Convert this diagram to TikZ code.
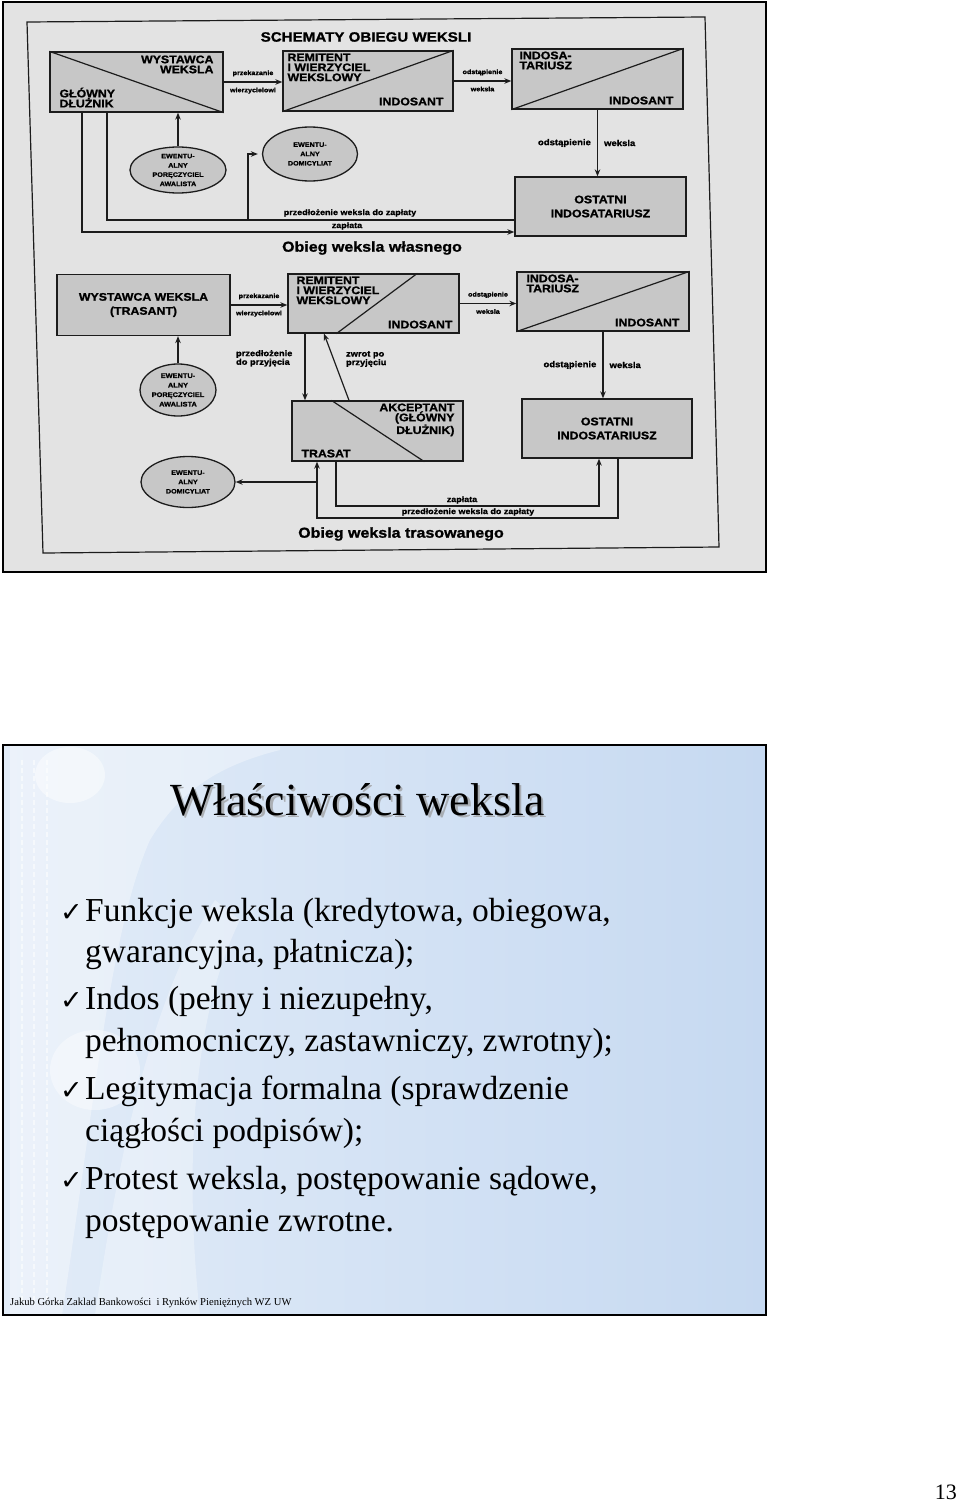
\documentclass[tikz,border=0pt]{standalone}
\usepackage{fontspec}
\setmainfont{Liberation Serif}
\newfontfamily\scanfont[FakeStretch=1.12,FakeBold=1.2]{Liberation Sans Bold}
\newfontfamily\symfont{DejaVu Sans}
\usepackage{xcolor}
\usepackage{tikz}
\usetikzlibrary{positioning,shapes.geometric,arrows.meta}

\definecolor{ink}{HTML}{1C1C1C}
\definecolor{scanbg}{HTML}{E3E3E3}
\definecolor{boxgray}{HTML}{C7C7C7}
\definecolor{slidepale}{HTML}{E2ECF8}
\definecolor{slideblue}{HTML}{C6D9F1}

\begin{document}
\begin{tikzpicture}[x=1pt, y=-1pt,
    party/.style={draw=ink, fill=boxgray, line width=1.3pt, inner sep=0pt,
      minimum width=171pt, minimum height=60pt},
    maybe/.style={ellipse, draw=ink, fill=boxgray, line width=1.3pt, inner sep=0pt,
      align=center, font=\scanfont\fontsize{6.4}{9.3}\selectfont},
    who/.style={inner sep=0pt, font=\scanfont\fontsize{11}{10}\selectfont},
    whoc/.style={align=center, font=\scanfont\fontsize{11}{14}\selectfont},
    tag/.style={inner sep=0pt, font=\scanfont\fontsize{6.4}{7}\selectfont},
    vtag/.style={inner sep=6pt, font=\scanfont\fontsize{8.5}{9}\selectfont},
    ltag/.style={inner sep=0pt, font=\scanfont\fontsize{8}{9}\selectfont},
    ptag/.style={inner sep=0pt, align=left, font=\scanfont\fontsize{8.3}{8.6}\selectfont},
    heading/.style={font=\scanfont\fontsize{13.5}{15}\selectfont},
    caption/.style={font=\scanfont\fontsize{14.3}{16}\selectfont},
    flow/.style={-{Stealth[length=7pt,width=5.5pt]}, line width=1.2pt, draw=ink},
    wire/.style={line width=1.2pt, draw=ink},
    slidetext/.style={anchor=base west, inner sep=0pt, font=\fontsize{33.5}{40}\selectfont},
    tick/.style={anchor=base west, inner sep=0pt, font=\symfont\fontsize{27}{30}\selectfont}
  ]
  \useasboundingbox (0,0) rectangle (960,1501);
  \fill[white] (0,0) rectangle (960,1501);

  % scanned page
  \fill[scanbg] (3,2) rectangle (766,572);
  \draw[black, line width=1.8pt] (3,2) rectangle (766,572);
  \draw[ink, line width=1.2pt] (27,22) -- (705,17) -- (719,547) -- (43,553) -- cycle;
  \node[heading] (schemat) at (366,37) {SCHEMATY OBIEGU WEKSLI};

  % obieg weksla wlasnego
  \node[party, minimum width=173pt] (wyst1) at (136.5,82) {};
  \draw[wire] (wyst1.north west) -- (wyst1.south east);
  \node[who, align=right, anchor=north east] (wyst1a) at ([shift={(-10,4)}]wyst1.north east) {WYSTAWCA\\WEKSLA};
  \node[who, align=left, anchor=south west] (wyst1b) at ([shift={(10,-5)}]wyst1.south west) {GŁÓWNY\\DŁUŻNIK};

  \node[party, minimum width=170pt] (remit1) at (368,81) {};
  \draw[wire] (remit1.south west) -- (remit1.north east);
  \node[who, align=left, anchor=north west] (remit1a) at ([shift={(5,3)}]remit1.north west) {REMITENT\\I WIERZYCIEL\\WEKSLOWY};
  \node[who, anchor=south east] (remit1b) at ([shift={(-10,-6)}]remit1.south east) {INDOSANT};

  \node[party] (indos1) at (597.5,79) {};
  \draw[wire] (indos1.south west) -- (indos1.north east);
  \node[who, align=left, anchor=north west] (indos1a) at ([shift={(8,3)}]indos1.north west) {INDOSA-\\TARIUSZ};
  \node[who, anchor=south east] (indos1b) at ([shift={(-10,-5)}]indos1.south east) {INDOSANT};

  \node[party, minimum height=59pt, whoc] (ost1) at (600.5,206.5) {OSTATNI\\INDOSATARIUSZ};

  \node[maybe, minimum width=96pt, minimum height=46pt] (por1) at (178,170) {EWENTU-\\ALNY\\PORĘCZYCIEL\\AWALISTA};
  \node[maybe, minimum width=95pt, minimum height=54pt] (domi1) at (310,154) {EWENTU-\\ALNY\\DOMICYLIAT};

  \draw[flow] (wyst1.east) -- (wyst1.east -| remit1.west)
    node[tag, midway, above=5pt] (przek1) {przekazanie}
    node[tag, midway, below=5pt] (wierz1) {wierzycielowi};
  \draw[flow] (remit1.east) -- (remit1.east -| indos1.west)
    node[tag, midway, above=5pt] (odst1) {odstąpienie}
    node[tag, midway, below=5pt] (weks1) {weksla};
  \draw[flow] (indos1.south) -- (indos1.south |- ost1.north)
    node[vtag, midway, left] (odst1v) {odstąpienie}
    node[vtag, midway, right] (weks1v) {weksla};
  \draw[flow] (por1.north) -- (por1.north |- wyst1.south);

  \coordinate (pay1) at (82,232);
  \coordinate (pres1) at (107,220);
  \coordinate (br1) at (248,220);
  \draw[flow] (wyst1.south -| pay1) |- (ost1.west |- pay1);
  \draw[wire] (ost1.west |- pres1) -| (wyst1.south -| pres1);
  \draw[flow, shorten >=4pt] (br1) |- (domi1.west);
  \node[ltag] (pres1t) at (350,213) {przedłożenie weksla do zapłaty};
  \node[ltag] (pay1t) at (347,226) {zapłata};
  \node[caption] (cap1) at (372,248) {Obieg weksla własnego};

  % obieg weksla trasowanego
  \node[party, minimum width=173pt, minimum height=61pt, whoc] (trasant) at (143.5,305) {WYSTAWCA WEKSLA\\(TRASANT)};

  \node[party, minimum height=59pt] (remit2) at (373.5,303.5) {};
  \draw[wire] ([xshift=49pt]remit2.south west) -- ([xshift=130pt]remit2.north west);
  \node[who, align=left, anchor=north west] (remit2a) at ([shift={(9,3)}]remit2.north west) {REMITENT\\I WIERZYCIEL\\WEKSLOWY};
  \node[who, anchor=south east] (remit2b) at ([shift={(-7,-5)}]remit2.south east) {INDOSANT};

  \node[party, minimum width=172pt, minimum height=59pt] (indos2) at (603,301.5) {};
  \draw[wire] (indos2.south west) -- (indos2.north east);
  \node[who, align=left, anchor=north west] (indos2a) at ([shift={(10,3)}]indos2.north west) {INDOSA-\\TARIUSZ};
  \node[who, anchor=south east] (indos2b) at ([shift={(-10,-5)}]indos2.south east) {INDOSANT};

  \node[party, minimum width=170pt, minimum height=59pt, whoc] (ost2) at (607,428.5) {OSTATNI\\INDOSATARIUSZ};

  \node[party] (trasat) at (377.5,431) {};
  \draw[wire] ([xshift=40pt]trasat.north west) -- ([xshift=133pt]trasat.south west);
  \node[who, align=right, anchor=north east] (trasata) at ([shift={(-9,3)}]trasat.north east) {AKCEPTANT\\(GŁÓWNY\\DŁUŻNIK)};
  \node[who, anchor=south west] (trasatb) at ([shift={(10,-4)}]trasat.south west) {TRASAT};

  \node[maybe, minimum width=76pt, minimum height=52pt, font=\scanfont\fontsize{6.6}{9.5}\selectfont] (por2) at (178,390) {EWENTU-\\ALNY\\PORĘCZYCIEL\\AWALISTA};
  \node[maybe, minimum width=94pt, minimum height=51pt] (domi2) at (188,482) {EWENTU-\\ALNY\\DOMICYLIAT};

  \draw[flow] (trasant.east) -- (trasant.east -| remit2.west)
    node[tag, midway, above=5pt] (przek2) {przekazanie}
    node[tag, midway, below=5pt] (wierz2) {wierzycielowi};
  \draw[flow] (remit2.east) -- (remit2.east -| indos2.west)
    node[tag, midway, above=5pt] (odst2) {odstąpienie}
    node[tag, midway, below=5pt] (weks2) {weksla};
  \draw[flow] (indos2.south) -- (indos2.south |- ost2.north)
    node[vtag, midway, left] (odst2v) {odstąpienie}
    node[vtag, midway, right] (weks2v) {weksla};
  \draw[flow] (por2.north) -- (por2.north |- trasant.south);

  \coordinate (toacc) at (305,367);
  \coordinate (back1) at (349,401);
  \coordinate (back2) at (324,333);
  \draw[flow] (remit2.south -| toacc) -- (trasat.north -| toacc)
    node[ptag, pos=0.37, left=12pt] (przyj) {przedłożenie\\do przyjęcia};
  \draw[flow] (trasat.north -| back1) -- (remit2.south -| back2)
    node[ptag, pos=0.62, right=12pt] (zwrot) {zwrot po\\przyjęciu};

  \coordinate (pres2) at (317,518);
  \coordinate (pres2r) at (618,518);
  \coordinate (br2) at (317,482);
  \coordinate (pay2) at (336,506);
  \coordinate (pay2r) at (599,506);
  \draw[flow] (ost2.south -| pres2r) -- (pres2r) -- (pres2) -- (trasat.south -| pres2);
  \draw[flow] (br2) -- (domi2.east);
  \draw[flow] (trasat.south -| pay2) -- (pay2) -- (pay2r) -- (ost2.south -| pay2r);
  \node[ltag] (pay2t) at (462,500) {zapłata};
  \node[ltag] (pres2t) at (468,512) {przedłożenie weksla do zapłaty};
  \node[caption] (cap2) at (401,534) {Obieg weksla trasowanego};

  % slide
  \fill[left color=slidepale, right color=slideblue] (3,745) rectangle (766,1315);
  \fill[white, opacity=.35] (10,745) rectangle (62,1315);
  \foreach \x in {22,34,47}
    \draw[white, opacity=.55, line width=2pt, dash pattern=on 5pt off 3pt] (\x,760) -- (\x,1305);
  \fill[white, opacity=.35] (62,1315) .. controls (95,1100) and (110,930) .. (150,840)
    .. controls (180,790) and (220,765) .. (280,750) -- (280,745) -- (62,745) -- cycle;
  \fill[white, opacity=.3] (95,1315) .. controls (120,1150) and (150,1000) .. (215,900)
    -- (240,920) .. controls (190,1020) and (185,1180) .. (200,1315) -- cycle;
  \fill[white, opacity=.45] (70,775) ellipse (35 and 28);
  \fill[white, opacity=.4] (95,1070) ellipse (45 and 40);
  \draw[black, line width=1.6pt] (3,745) rectangle (766,1315);

  \node[anchor=base west, inner sep=0pt, font=\fontsize{46}{50}\selectfont, text=black!40, opacity=.7] (titleshade) at (172.5,817.5) {Właściwości weksla};
  \node[anchor=base west, inner sep=0pt, font=\fontsize{46}{50}\selectfont] (title) at (170,815) {Właściwości weksla};

  \node[tick] (tick1) at (60,921) {✓};
  \node[slidetext] (l1) at (85,921) {Funkcje weksla (kredytowa, obiegowa,};
  \node[slidetext] (l2) at (85,962) {gwarancyjna, płatnicza);};
  \node[tick] (tick2) at (60,1009) {✓};
  \node[slidetext] (l3) at (85,1009) {Indos (pełny i niezupełny,};
  \node[slidetext] (l4) at (85,1051) {pełnomocniczy, zastawniczy, zwrotny);};
  \node[tick] (tick3) at (60,1099) {✓};
  \node[slidetext] (l5) at (85,1099) {Legitymacja formalna (sprawdzenie};
  \node[slidetext] (l6) at (85,1141) {ciągłości podpisów);};
  \node[tick] (tick4) at (60,1189) {✓};
  \node[slidetext] (l7) at (85,1189) {Protest weksla, postępowanie sądowe,};
  \node[slidetext] (l8) at (85,1231) {postępowanie zwrotne.};

  \node[anchor=base west, inner sep=0pt, font=\fontsize{10.6}{12}\selectfont] (footer) at (10,1305) {Jakub Górka Zaklad Bankowości\ \ i Rynków Pieniężnych WZ UW};
  \node[anchor=base east, inner sep=0pt, font=\fontsize{22}{24}\selectfont] (pageno) at (957,1499) {13};
\end{tikzpicture}
\end{document}
